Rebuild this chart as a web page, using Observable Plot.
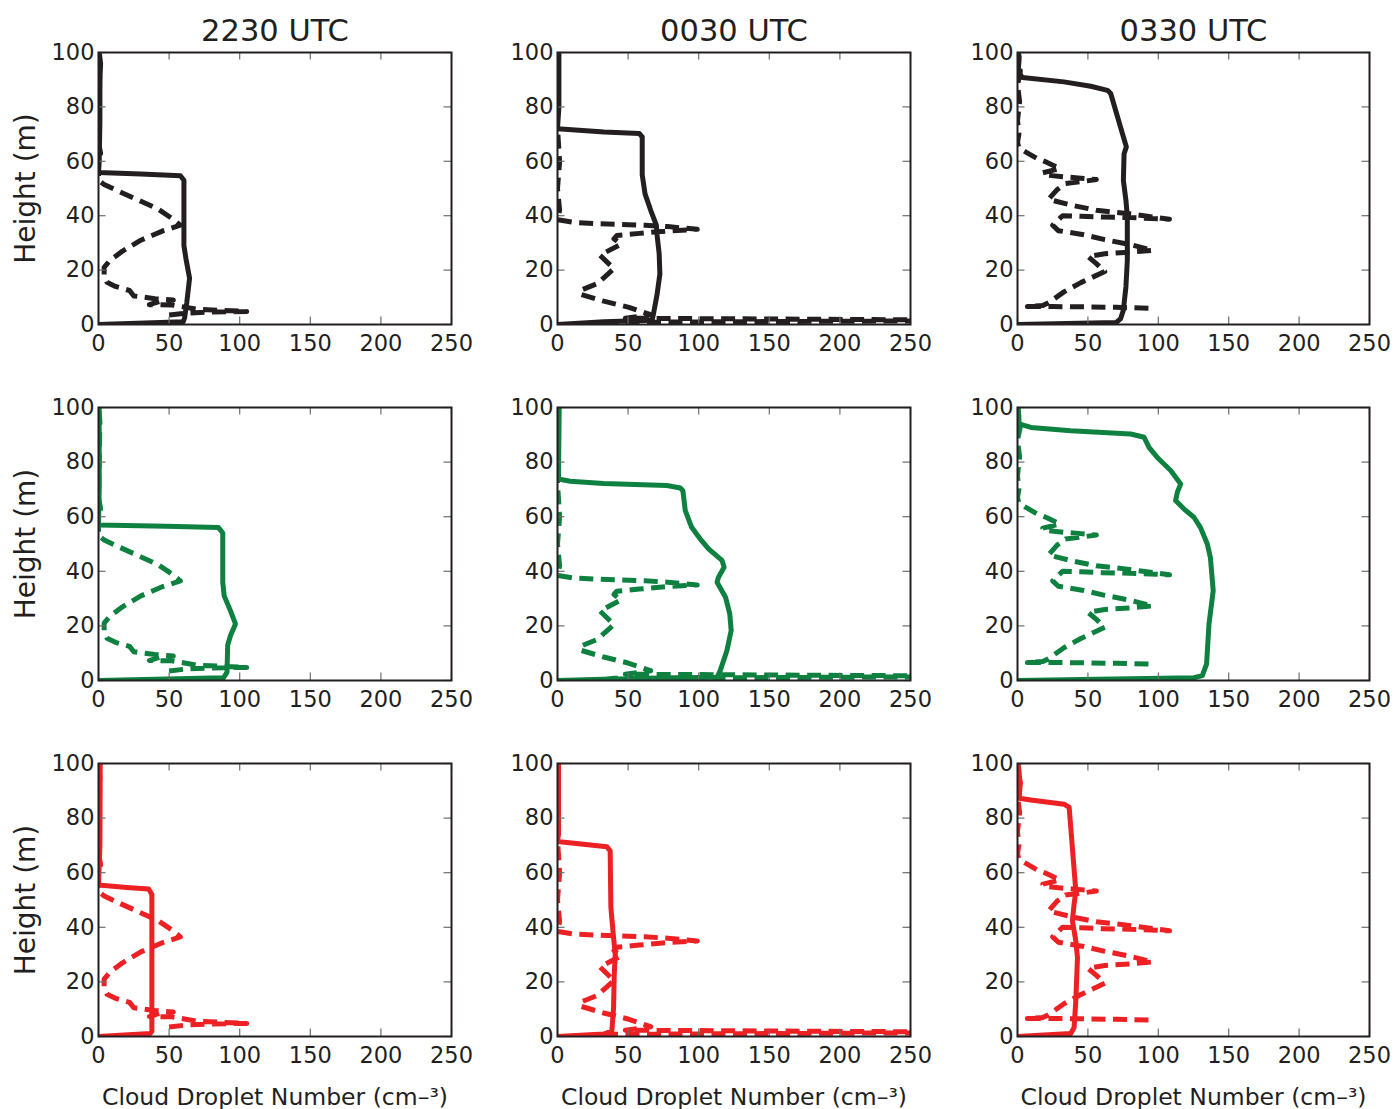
<!DOCTYPE html>
<html><head><meta charset="utf-8">
<script src="https://cdn.jsdelivr.net/npm/d3@7"></script>
<script src="https://cdn.jsdelivr.net/npm/@observablehq/plot@0.6"></script>
<style>
body{margin:0;background:#fff;}
#chart{position:relative;width:1395px;height:1109px;background:#fff;font-family:"DejaVu Sans",sans-serif;}
.cell{position:absolute;}
</style></head><body><div id="chart"></div>
<script>
// ---------- labels / ticks ----------
const columnTitles = ["2230 UTC", "0030 UTC", "0330 UTC"];
const xTicks = [0, 50, 100, 150, 200, 250];
const yTicks = [0, 20, 40, 60, 80, 100];
const yLabel = "Height (m)";
const xLabel = "Cloud Droplet Number (cm\u2013\u00b3)";
const rowColors = ["#231f20", "#0e8040", "#ed2024"];

// ---------- observed profiles (dashed), [number, height] ----------
const obs2230 = [[50,3.5],[62,4.2],[80,4.6],[105,4.8],[70,5.6],[52,7.2],[36,7.3],[44,8.6],[53,9],[40,9.5],[25,10.5],[22,12.5],[12,14],[6,15.5],[4,18],[4,21],[8,23.5],[17,27],[30,31],[46,34.5],[58,36.5],[52,39],[42,42.5],[27,46],[12,49.5],[4,51.5],[0,53],[0,60],[1.5,63],[0,67],[0.5,80],[1,95],[0,100]];
const obs0030 = [[33,0.3],[40,0.8],[300,1.45],[300,1.6],[48,2.3],[66,3.6],[50,6.4],[32,8.7],[17,11],[16,12.5],[28,15],[40,20.5],[30,25.5],[45,29.5],[40,31.5],[42,32.7],[58,33.5],[78,34.4],[99,35],[78,36],[62,36.5],[44,36.8],[28,37.1],[12,37.5],[0,38.5],[1.5,42],[0,50],[1.5,60],[0,72],[0,100]];
const obs0330 = [[93,6.0],[70,6.3],[45,6.5],[25,6.6],[7,6.6],[18,7.0],[22,8.0],[27,9.8],[33,12],[45,15.4],[62,19.5],[56,22.4],[50,25],[62,26],[80,26.6],[96,27.3],[80,29.4],[62,31.2],[47,33],[29,34.5],[25,36.5],[32,40],[45,39.8],[60,39.5],[80,39.3],[108,38.7],[78,40.8],[56,42],[39,43.8],[22,46],[28,49.5],[34,51.8],[45,52.5],[56,53.3],[45,53.8],[33,54.3],[19,55],[18,55.8],[30,57.3],[21,59.6],[14,61],[6,63.4],[1,65],[0,67],[1,70],[0,75],[1.5,82],[0,88],[2,93],[0,100]];

// ---------- simulated profiles (solid), [number, height] ----------
const black2230 = [[0,0],[60,1],[61,2.5],[62.5,8],[64.5,17],[62,24],[60.5,29],[60.5,53],[58,54.7],[30,55.3],[0,55.9],[0.5,60],[1,75],[1,90],[1.5,96],[0.5,100]];
const black0030 = [[0,0],[33,1],[67,1.6],[68,4],[70.5,11],[72.5,18.5],[72,26],[70.5,33],[70,36.5],[66,42],[62,48],[60,55],[60,69],[58,70.2],[33,70.8],[0,72],[1,80],[1,100]];
const black0330 = [[0,0],[70,0.7],[73.3,2.2],[75.2,5.3],[77,13.8],[78,23.6],[78,39.6],[77,45.7],[75.2,53],[75.7,62.8],[77.3,65.3],[74.5,70.2],[66.2,84.9],[63.9,86.1],[52,87.6],[33,89.2],[3.5,90.8],[0.5,92.9],[1.2,98.4],[0.5,100]];
const green2230 = [[0,0],[88.5,1],[91,3],[91.5,13],[93.5,16.5],[97,20.7],[93.5,25.5],[89,31],[88,36],[88,54],[85,56],[48,56.5],[0,57],[0.5,70],[0.5,100]];
const green0030 = [[0,0],[32.6,0.5],[113,1.2],[115.3,3.7],[120,11],[123,18.3],[122,24.4],[119,30.5],[113,36],[114,37.8],[118,41.5],[116.5,44],[107,48.2],[101,51.9],[95,56.1],[90.5,62.2],[88.8,69.5],[87,70.5],[77.5,71.4],[32.6,72.2],[9,73],[0.7,73.8],[1.2,100]];
const green0330 = [[0,0],[125.3,1],[131.3,1.8],[134.3,6.1],[136,20.7],[139,32.9],[137,45],[134.8,50],[130,56],[125.3,59.8],[118.3,62.8],[112.3,65.9],[113.5,68.9],[115.9,72],[108.8,76.9],[99.3,81.7],[93.4,85.4],[89.9,89.1],[80.4,90.3],[37.8,91.5],[9.5,92.7],[1.2,94],[0.5,100]];
const red2230 = [[0,0],[36.7,1.1],[37.8,2],[37.8,52],[35.5,54],[20,54.6],[0,55.5],[1,70],[1.2,100]];
const red0030 = [[0,0],[32.6,0.9],[38.5,2],[39.7,10.6],[40.2,22.8],[40.9,30.2],[39.7,36.3],[37.8,47.3],[37.3,68],[35,69.5],[0,71.4],[0.7,74],[0.7,100]];
const red0330 = [[0,0],[37.8,1.1],[40.2,3.3],[41.4,13],[42.6,28.9],[41.4,35],[39,42.4],[40.2,48.5],[41.4,53.4],[36.7,83.9],[33.1,85.1],[9.5,86.6],[1.2,87.3],[1.9,92.4],[0.5,100]];

const observed = [obs2230, obs0030, obs0330];
const simulated = [
  [black2230, black0030, black0330],
  [green2230, green0030, green0330],
  [red2230, red0030, red0330]
];

// ---------- layout ----------
const colFrameLeft = [98, 557, 1017];
const colFrameRight = [451, 910, 1369];
const rowFrameTop = [52, 407, 763];
const rowFrameBottom = [324, 680, 1036];
const rowSvgBottom = [355, 711, 1109];
const M_TOP = 52, M_LEFT = 98, CELL_W = 459;
const TICK_LEN = 7.5;
const LINE_W = 5;
const textColor = "#231f20";

const chart = document.getElementById("chart");

for (let r = 0; r < 3; r++) {
  for (let c = 0; c < 3; c++) {
    const svgLeft = colFrameLeft[c] - M_LEFT;
    const svgTop = rowFrameTop[r] - M_TOP;
    const frameW = colFrameRight[c] - colFrameLeft[c];
    const frameH = rowFrameBottom[r] - rowFrameTop[r];
    const height = rowSvgBottom[r] - svgTop;
    const marginBottom = height - M_TOP - frameH;
    const marginRight = CELL_W - M_LEFT - frameW;
    const color = rowColors[r];

    const marks = [
      Plot.line(simulated[r][c], {x: d => d[0], y: d => d[1], stroke: color, strokeWidth: LINE_W, strokeLinejoin: "round", strokeLinecap: "butt", clip: true}),
      Plot.line(observed[c], {x: d => d[0], y: d => d[1], stroke: color, strokeWidth: LINE_W, strokeDasharray: "14,7.5", strokeLinecap: "butt", strokeLinejoin: "round", clip: true}),
      // inward ticks on all four sides
      Plot.ruleX(xTicks, {x: d => d, insetTop: frameH - TICK_LEN, stroke: "#6d6e71", strokeWidth: 1.2}),
      Plot.ruleX(xTicks, {x: d => d, insetBottom: frameH - TICK_LEN, stroke: "#6d6e71", strokeWidth: 1.2}),
      Plot.ruleY(yTicks, {y: d => d, insetRight: frameW - TICK_LEN, stroke: "#6d6e71", strokeWidth: 1.2}),
      Plot.ruleY(yTicks, {y: d => d, insetLeft: frameW - TICK_LEN, stroke: "#6d6e71", strokeWidth: 1.2}),
      Plot.axisX(xTicks, {tickSize: 0, tickPadding: 11, fontSize: 22.5, fill: textColor, label: null}),
      Plot.axisY(yTicks, {tickSize: 0, tickPadding: 4, fontSize: 22.5, fill: textColor, label: null}),
      Plot.frame({stroke: textColor, strokeWidth: 2})
    ];
    if (r === 0) {
      marks.push(Plot.text([columnTitles[c]], {text: d => d, frameAnchor: "top", lineAnchor: "bottom", dy: -12, fontSize: 30.5, fill: textColor}));
    }
    if (c === 0) {
      marks.push(Plot.text([yLabel], {text: d => d, frameAnchor: "left", rotate: -90, textAnchor: "middle", lineAnchor: "bottom", dx: -64, fontSize: 28, fill: textColor}));
    }
    if (r === 2) {
      marks.push(Plot.text([xLabel], {text: d => d, frameAnchor: "bottom", lineAnchor: "bottom", dy: 68, fontSize: 23.5, fill: textColor}));
    }

    const svg = Plot.plot({
      width: CELL_W,
      height,
      marginTop: M_TOP,
      marginLeft: M_LEFT,
      marginRight,
      marginBottom,
      x: {domain: [0, 250], ticks: xTicks},
      y: {domain: [0, 100], ticks: yTicks},
      style: {fontFamily: "DejaVu Sans", fontSize: "22px", background: "transparent", overflow: "visible", color: textColor},
      marks
    });
    const cell = document.createElement("div");
    cell.className = "cell";
    cell.style.left = svgLeft + "px";
    cell.style.top = svgTop + "px";
    cell.style.width = CELL_W + "px";
    cell.style.height = height + "px";
    cell.appendChild(svg);
    chart.appendChild(cell);
  }
}
</script>
</body></html>
